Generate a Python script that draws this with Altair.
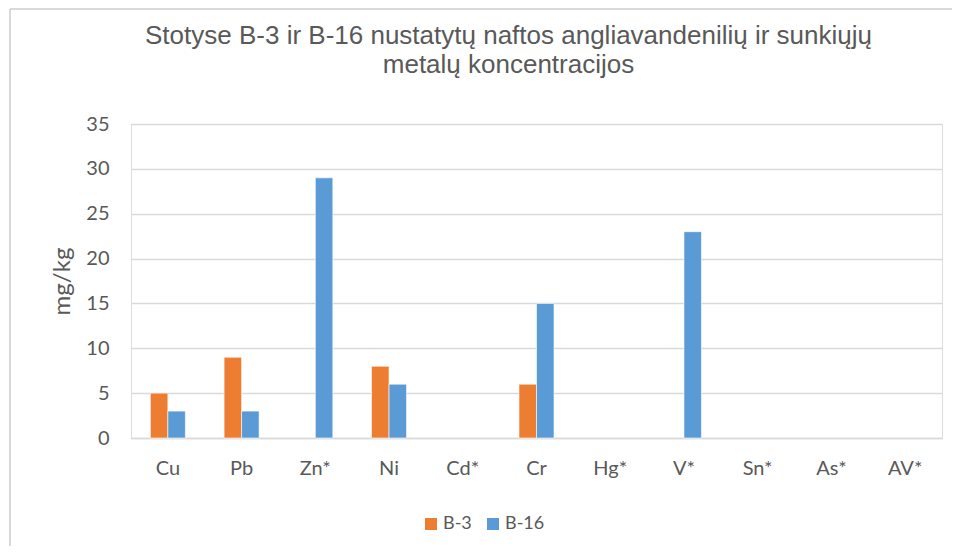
import altair as alt
import pandas as pd

categories = ["Cu", "Pb", "Zn*", "Ni", "Cd*", "Cr", "Hg*", "V*", "Sn*", "As*", "AV*"]
b3_values = [5, 9, 0, 8, 0, 6, 0, 0, 0, 0, 0]
b16_values = [3, 3, 29, 6, 0, 15, 0, 23, 0, 0, 0]
series_names = ["B-3", "B-16"]
series_colors = ["#ED7D31", "#5B9BD5"]
y_ticks = [0, 5, 10, 15, 20, 25, 30, 35]

rows = []
for c, a, b in zip(categories, b3_values, b16_values):
    rows.append({"cat": c, "series": "B-3", "value": a})
    rows.append({"cat": c, "series": "B-16", "value": b})
df = pd.DataFrame(rows)

TEXT = "#595959"
GRID = "#D9D9D9"

bars = alt.Chart(df).transform_filter("datum.value > 0").mark_bar(
    stroke="white", strokeWidth=0.6
).encode(
    x=alt.X("cat:N", sort=categories, title=None,
            scale=alt.Scale(domain=categories, paddingInner=0.525, paddingOuter=0.2625),
            axis=alt.Axis(labelAngle=0, labelFont="Lato", labelFontSize=20, labelColor=TEXT,
                          ticks=False, domainColor=GRID, domainWidth=1.5, labelPadding=20,
                          grid=False)),
    xOffset=alt.XOffset("series:N", scale=alt.Scale(domain=series_names, paddingInner=0, paddingOuter=0)),
    y=alt.Y("value:Q", title="mg/kg",
            scale=alt.Scale(domain=[0, 35], nice=False),
            axis=alt.Axis(values=y_ticks, labelFont="Lato", labelFontSize=20, labelColor=TEXT,
                          ticks=False, domain=False, gridColor=GRID, gridWidth=1.5,
                          labelPadding=22, titleFont="Lato", titleFontSize=24,
                          titleFontWeight="normal", titleColor=TEXT, titlePadding=11)),
    color=alt.Color("series:N", sort=series_names,
                    scale=alt.Scale(domain=series_names, range=series_colors),
                    legend=alt.Legend(title=None, orient="none", direction="horizontal",
                                      legendX=291, legendY=391, symbolType="square",
                                      symbolSize=144, symbolStrokeWidth=0,
                                      labelFont="Lato", labelFontSize=18, labelColor=TEXT,
                                      labelOffset=3, columnPadding=12)),
)

frame_df = pd.DataFrame({"k": [0]})
top_line = alt.Chart(frame_df).mark_rule(color=GRID, strokeWidth=2).encode(
    x=alt.value(-121), x2=alt.value(830), y=alt.value(-115)
)
left_line = alt.Chart(frame_df).mark_rule(color=GRID, strokeWidth=2).encode(
    x=alt.value(-121), y=alt.value(-115), y2=alt.value(440)
)

chart = alt.layer(top_line, left_line, bars).properties(
    width=811,
    height=314,
    padding={"left": 123, "top": 116, "right": 10, "bottom": 108},
    autosize=alt.AutoSizeParams(type="none"),
    title=alt.TitleParams(
        text=["Stotyse B-3 ir B-16 nustatytų naftos angliavandenilių ir sunkiųjų",
              "metalų koncentracijos"],
        font="Liberation Sans", fontSize=26, fontWeight="normal", color=TEXT,
        anchor="middle", frame="group", dx=-28, offset=-91, lineHeight=29,
        baseline="alphabetic",
    ),
).configure_view(stroke=None).configure(background="white")

chart.save("out.html", embed_options={"renderer": "svg", "actions": False})
